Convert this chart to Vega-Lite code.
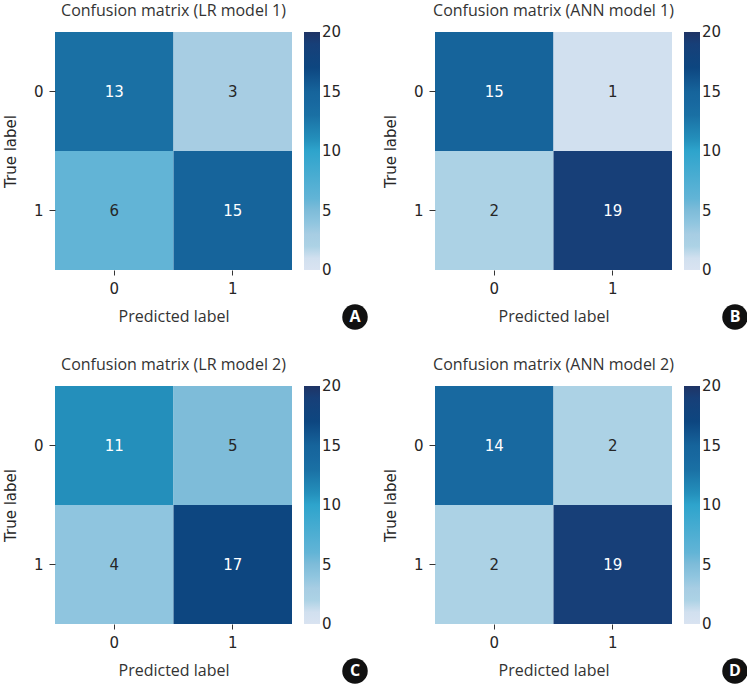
{
  "$schema": "https://vega.github.io/schema/vega-lite/v6.json",
  "background": "white",
  "padding": {"left": 3, "top": 3, "right": 5, "bottom": 5},
  "bounds": "flush",
  "columns": 2,
  "spacing": {"row": 116, "column": 143},
  "datasets": {
    "A": [
      {"true_label": "0", "predicted": "0", "count": 13},
      {"true_label": "0", "predicted": "1", "count": 3},
      {"true_label": "1", "predicted": "0", "count": 6},
      {"true_label": "1", "predicted": "1", "count": 15}
    ],
    "B": [
      {"true_label": "0", "predicted": "0", "count": 15},
      {"true_label": "0", "predicted": "1", "count": 1},
      {"true_label": "1", "predicted": "0", "count": 2},
      {"true_label": "1", "predicted": "1", "count": 19}
    ],
    "C": [
      {"true_label": "0", "predicted": "0", "count": 11},
      {"true_label": "0", "predicted": "1", "count": 5},
      {"true_label": "1", "predicted": "0", "count": 4},
      {"true_label": "1", "predicted": "1", "count": 17}
    ],
    "D": [
      {"true_label": "0", "predicted": "0", "count": 14},
      {"true_label": "0", "predicted": "1", "count": 2},
      {"true_label": "1", "predicted": "0", "count": 2},
      {"true_label": "1", "predicted": "1", "count": 19}
    ],
    "badges": [
      {"panel": "A"}, {"panel": "B"}, {"panel": "C"}, {"panel": "D"}
    ]
  },
  "config": {
    "view": {"stroke": null},
    "title": {"font": "Open Sans", "fontSize": 16, "fontWeight": "normal", "color": "#333333", "offset": 13, "anchor": "middle"},
    "axis": {
      "labelFont": "DejaVu Sans", "labelFontSize": 15, "labelColor": "#262626",
      "tickColor": "#333333", "domain": false, "grid": false, "labelAngle": 0
    },
    "axisX": {"titleFont": "Open Sans", "titleFontSize": 16, "titleFontWeight": "normal", "titleColor": "#333333", "tickSize": 5, "labelPadding": 6, "titlePadding": 12},
    "axisY": {"titleFont": "DejaVu Sans", "titleFontSize": 15, "titleFontWeight": "normal", "titleColor": "#262626", "tickSize": 6, "labelPadding": 6, "titlePadding": 15},
    "legend": {
      "gradientLength": 238, "gradientThickness": 16, "offset": 12, "padding": 0,
      "labelFont": "DejaVu Sans", "labelFontSize": 15, "labelColor": "#262626",
      "labelOffset": 8, "gradientStrokeWidth": 0
    }
  },
  "resolve": {"scale": {"color": "independent"}},
  "concat": [
    {
      "title": "Confusion matrix (LR model 1)",
      "width": 237, "height": 238,
      "layer": [
        {
          "data": {"name": "A"},
          "mark": {"type": "rect"},
          "encoding": {
            "x": {"field": "predicted", "type": "ordinal", "title": "Predicted label", "scale": {"paddingInner": 0, "paddingOuter": 0}},
            "y": {"field": "true_label", "type": "ordinal", "title": "True label", "scale": {"paddingInner": 0, "paddingOuter": 0}},
            "color": {"field": "count", "type": "quantitative",
              "scale": {"domain": [0, 1, 2, 3, 4, 5, 6, 10, 11, 13, 14, 15, 17, 19, 20], "range": ["#d9e3f1", "#d1e0ef", "#acd2e5", "#a7cde3", "#8fc5df", "#7ebcd9", "#62b4d6", "#2ea4cc", "#248fbb", "#1a70a4", "#1869a0", "#16649b", "#0d4680", "#173f78", "#1f3465"], "interpolate": "rgb"},
              "legend": {"title": null, "values": [0, 5, 10, 15, 20], "encode": {"labels": {"update": {"baseline": {"value": "middle"}}}}}}
          }
        },
        {
          "data": {"name": "A"},
          "mark": {"type": "text", "font": "DejaVu Sans", "fontSize": 15},
          "encoding": {
            "x": {"field": "predicted", "type": "ordinal"},
            "y": {"field": "true_label", "type": "ordinal"},
            "text": {"field": "count", "type": "quantitative"},
            "color": {"condition": {"test": "datum.count > 8", "value": "#ffffff"}, "value": "#262626"}
          }
        },
        {
          "data": {"name": "badges"},
          "transform": [{"filter": "datum.panel === 'A'"}],
          "mark": {"type": "point", "shape": "circle", "filled": true, "opacity": 1, "size": 650, "color": "#111111"},
          "encoding": {"x": {"value": 300}, "y": {"value": 285}}
        },
        {
          "data": {"name": "badges"},
          "transform": [{"filter": "datum.panel === 'A'"}],
          "mark": {"type": "text", "font": "Open Sans", "fontWeight": "bold", "fontSize": 16, "color": "#ffffff", "baseline": "middle", "align": "center"},
          "encoding": {"x": {"value": 300}, "y": {"value": 285}, "text": {"field": "panel"}}
        }
      ]
    },
    {
      "title": "Confusion matrix (ANN model 1)",
      "width": 237, "height": 238,
      "layer": [
        {
          "data": {"name": "B"},
          "mark": {"type": "rect"},
          "encoding": {
            "x": {"field": "predicted", "type": "ordinal", "title": "Predicted label", "scale": {"paddingInner": 0, "paddingOuter": 0}},
            "y": {"field": "true_label", "type": "ordinal", "title": "True label", "scale": {"paddingInner": 0, "paddingOuter": 0}},
            "color": {"field": "count", "type": "quantitative",
              "scale": {"domain": [0, 1, 2, 3, 4, 5, 6, 10, 11, 13, 14, 15, 17, 19, 20], "range": ["#d9e3f1", "#d1e0ef", "#acd2e5", "#a7cde3", "#8fc5df", "#7ebcd9", "#62b4d6", "#2ea4cc", "#248fbb", "#1a70a4", "#1869a0", "#16649b", "#0d4680", "#173f78", "#1f3465"], "interpolate": "rgb"},
              "legend": {"title": null, "values": [0, 5, 10, 15, 20], "encode": {"labels": {"update": {"baseline": {"value": "middle"}}}}}}
          }
        },
        {
          "data": {"name": "B"},
          "mark": {"type": "text", "font": "DejaVu Sans", "fontSize": 15},
          "encoding": {
            "x": {"field": "predicted", "type": "ordinal"},
            "y": {"field": "true_label", "type": "ordinal"},
            "text": {"field": "count", "type": "quantitative"},
            "color": {"condition": {"test": "datum.count > 8", "value": "#ffffff"}, "value": "#262626"}
          }
        },
        {
          "data": {"name": "badges"},
          "transform": [{"filter": "datum.panel === 'B'"}],
          "mark": {"type": "point", "shape": "circle", "filled": true, "opacity": 1, "size": 650, "color": "#111111"},
          "encoding": {"x": {"value": 300}, "y": {"value": 285}}
        },
        {
          "data": {"name": "badges"},
          "transform": [{"filter": "datum.panel === 'B'"}],
          "mark": {"type": "text", "font": "Open Sans", "fontWeight": "bold", "fontSize": 16, "color": "#ffffff", "baseline": "middle", "align": "center"},
          "encoding": {"x": {"value": 300}, "y": {"value": 285}, "text": {"field": "panel"}}
        }
      ]
    },
    {
      "title": "Confusion matrix (LR model 2)",
      "width": 237, "height": 238,
      "layer": [
        {
          "data": {"name": "C"},
          "mark": {"type": "rect"},
          "encoding": {
            "x": {"field": "predicted", "type": "ordinal", "title": "Predicted label", "scale": {"paddingInner": 0, "paddingOuter": 0}},
            "y": {"field": "true_label", "type": "ordinal", "title": "True label", "scale": {"paddingInner": 0, "paddingOuter": 0}},
            "color": {"field": "count", "type": "quantitative",
              "scale": {"domain": [0, 1, 2, 3, 4, 5, 6, 10, 11, 13, 14, 15, 17, 19, 20], "range": ["#d9e3f1", "#d1e0ef", "#acd2e5", "#a7cde3", "#8fc5df", "#7ebcd9", "#62b4d6", "#2ea4cc", "#248fbb", "#1a70a4", "#1869a0", "#16649b", "#0d4680", "#173f78", "#1f3465"], "interpolate": "rgb"},
              "legend": {"title": null, "values": [0, 5, 10, 15, 20], "encode": {"labels": {"update": {"baseline": {"value": "middle"}}}}}}
          }
        },
        {
          "data": {"name": "C"},
          "mark": {"type": "text", "font": "DejaVu Sans", "fontSize": 15},
          "encoding": {
            "x": {"field": "predicted", "type": "ordinal"},
            "y": {"field": "true_label", "type": "ordinal"},
            "text": {"field": "count", "type": "quantitative"},
            "color": {"condition": {"test": "datum.count > 8", "value": "#ffffff"}, "value": "#262626"}
          }
        },
        {
          "data": {"name": "badges"},
          "transform": [{"filter": "datum.panel === 'C'"}],
          "mark": {"type": "point", "shape": "circle", "filled": true, "opacity": 1, "size": 650, "color": "#111111"},
          "encoding": {"x": {"value": 300}, "y": {"value": 285}}
        },
        {
          "data": {"name": "badges"},
          "transform": [{"filter": "datum.panel === 'C'"}],
          "mark": {"type": "text", "font": "Open Sans", "fontWeight": "bold", "fontSize": 16, "color": "#ffffff", "baseline": "middle", "align": "center"},
          "encoding": {"x": {"value": 300}, "y": {"value": 285}, "text": {"field": "panel"}}
        }
      ]
    },
    {
      "title": "Confusion matrix (ANN model 2)",
      "width": 237, "height": 238,
      "layer": [
        {
          "data": {"name": "D"},
          "mark": {"type": "rect"},
          "encoding": {
            "x": {"field": "predicted", "type": "ordinal", "title": "Predicted label", "scale": {"paddingInner": 0, "paddingOuter": 0}},
            "y": {"field": "true_label", "type": "ordinal", "title": "True label", "scale": {"paddingInner": 0, "paddingOuter": 0}},
            "color": {"field": "count", "type": "quantitative",
              "scale": {"domain": [0, 1, 2, 3, 4, 5, 6, 10, 11, 13, 14, 15, 17, 19, 20], "range": ["#d9e3f1", "#d1e0ef", "#acd2e5", "#a7cde3", "#8fc5df", "#7ebcd9", "#62b4d6", "#2ea4cc", "#248fbb", "#1a70a4", "#1869a0", "#16649b", "#0d4680", "#173f78", "#1f3465"], "interpolate": "rgb"},
              "legend": {"title": null, "values": [0, 5, 10, 15, 20], "encode": {"labels": {"update": {"baseline": {"value": "middle"}}}}}}
          }
        },
        {
          "data": {"name": "D"},
          "mark": {"type": "text", "font": "DejaVu Sans", "fontSize": 15},
          "encoding": {
            "x": {"field": "predicted", "type": "ordinal"},
            "y": {"field": "true_label", "type": "ordinal"},
            "text": {"field": "count", "type": "quantitative"},
            "color": {"condition": {"test": "datum.count > 8", "value": "#ffffff"}, "value": "#262626"}
          }
        },
        {
          "data": {"name": "badges"},
          "transform": [{"filter": "datum.panel === 'D'"}],
          "mark": {"type": "point", "shape": "circle", "filled": true, "opacity": 1, "size": 650, "color": "#111111"},
          "encoding": {"x": {"value": 300}, "y": {"value": 285}}
        },
        {
          "data": {"name": "badges"},
          "transform": [{"filter": "datum.panel === 'D'"}],
          "mark": {"type": "text", "font": "Open Sans", "fontWeight": "bold", "fontSize": 16, "color": "#ffffff", "baseline": "middle", "align": "center"},
          "encoding": {"x": {"value": 300}, "y": {"value": 285}, "text": {"field": "panel"}}
        }
      ]
    }
  ]
}
